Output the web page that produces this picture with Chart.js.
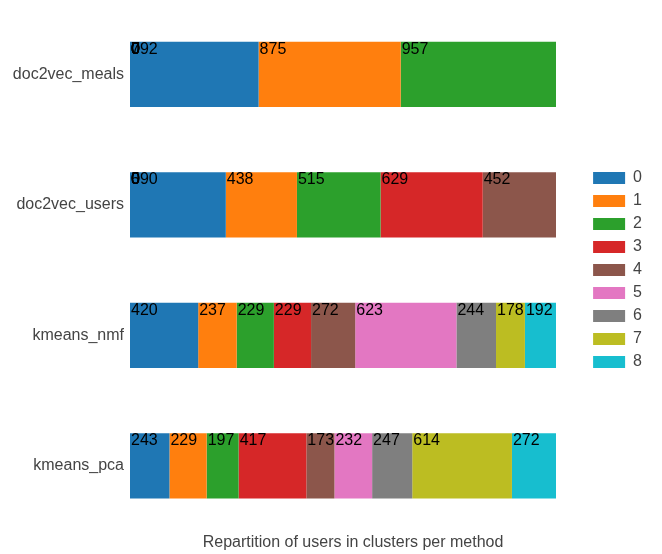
<!DOCTYPE html>
<html>
<head>
<meta charset="utf-8">
<script src="https://cdn.jsdelivr.net/npm/chart.js@4/dist/chart.umd.min.js"></script>
<style>
  html, body { margin: 0; padding: 0; background: #fff; }
  #wrap { width: 662px; height: 554px; position: relative; }
</style>
</head>
<body>
<div id="wrap"><canvas id="chart"></canvas></div>
<script>
// clustering methods (rows) and cluster ids (stacked segments)
const methods = ['doc2vec_meals', 'doc2vec_users', 'kmeans_nmf', 'kmeans_pca'];
const clusters = ['0', '1', '2', '3', '4', '5', '6', '7', '8'];

// users per cluster, one array per cluster, in the order of methods
const cluster0 = [792, 590, 420, 243];
const cluster1 = [875, 438, 237, 229];
const cluster2 = [957, 515, 229, 197];
const cluster3 = [0, 629, 229, 417];
const cluster4 = [0, 452, 272, 173];
const cluster5 = [0, 0, 623, 232];
const cluster6 = [0, 0, 244, 247];
const cluster7 = [0, 0, 178, 614];
const cluster8 = [0, 0, 192, 272];
const clusterValues = [cluster0, cluster1, cluster2, cluster3, cluster4, cluster5, cluster6, cluster7, cluster8];

const totalUsers = 2624;
const chartTitle = 'Repartition of users in clusters per method';

const palette = ['#1f77b4', '#ff7f0e', '#2ca02c', '#d62728', '#8c564b', '#e377c2', '#7f7f7f', '#bcbd22', '#17becf'];
const FONT = '"Liberation Sans", Arial, sans-serif';

// Write the raw count at the top-left corner of every segment
const segmentLabels = {
    id: 'segmentLabels',
    afterDatasetsDraw(chart) {
        const ctx = chart.ctx;
        const xScale = chart.scales.x;
        ctx.save();
        ctx.font = '16px ' + FONT;
        ctx.fillStyle = '#000';
        ctx.textAlign = 'left';
        ctx.textBaseline = 'alphabetic';
        chart.data.datasets.forEach((ds, i) => {
            const meta = chart.getDatasetMeta(i);
            meta.data.forEach((bar, j) => {
                const v = ds.data[j];
                // empty clusters end up at the start of the bar
                const left = v === 0 ? xScale.getPixelForValue(0) : Math.min(bar.x, bar.base);
                const top = bar.y - bar.height / 2;
                ctx.fillText(String(v), left + 1, top + 12);
            });
        });
        ctx.restore();
    }
};

// Push the legend a bit to the right of the plot
const legendShift = {
    id: 'legendShift',
    afterLayout(chart) {
        const lg = chart.legend;
        const dx = 30;
        lg.left += dx;
        lg.right += dx;
    }
};

// Caption under the plot
const bottomTitle = {
    id: 'bottomTitle',
    afterDraw(chart) {
        const ctx = chart.ctx;
        const area = chart.chartArea;
        ctx.save();
        ctx.font = '16px ' + FONT;
        ctx.fillStyle = '#444';
        ctx.textAlign = 'center';
        ctx.textBaseline = 'middle';
        ctx.fillText(chartTitle, (area.left + area.right) / 2 + 10, area.bottom + 12);
        ctx.restore();
    }
};

const datasets = clusters.map((c, i) => ({
    label: c,
    data: clusterValues[i],
    backgroundColor: palette[i],
    borderWidth: 0,
    categoryPercentage: 1,
    barPercentage: 0.5
}));

new Chart(document.getElementById('chart').getContext('2d'), {
    type: 'bar',
    data: { labels: methods, datasets },
    options: {
        indexAxis: 'y',
        responsive: true,
        maintainAspectRatio: false,
        animation: false,
        layout: { padding: { top: 9, bottom: 23, left: 13, right: 40 } },
        plugins: {
            legend: {
                display: true,
                position: 'right',
                labels: {
                    boxWidth: 32,
                    boxHeight: 12,
                    padding: 7,
                    color: '#444',
                    font: { family: FONT, size: 16 }
                }
            },
            title: { display: false },
            tooltip: { enabled: false }
        },
        scales: {
            x: {
                display: false,
                stacked: true,
                min: 0,
                max: totalUsers
            },
            y: {
                stacked: true,
                grid: { display: false, drawTicks: false },
                border: { display: false },
                ticks: {
                    color: '#444',
                    padding: 6,
                    font: { family: FONT, size: 16 }
                },
                afterFit: (scale) => {
                    scale.width = 117;
                    scale.paddingTop = 0;
                    scale.paddingBottom = 0;
                }
            }
        }
    },
    plugins: [segmentLabels, legendShift, bottomTitle]
});
</script>
</body>
</html>
